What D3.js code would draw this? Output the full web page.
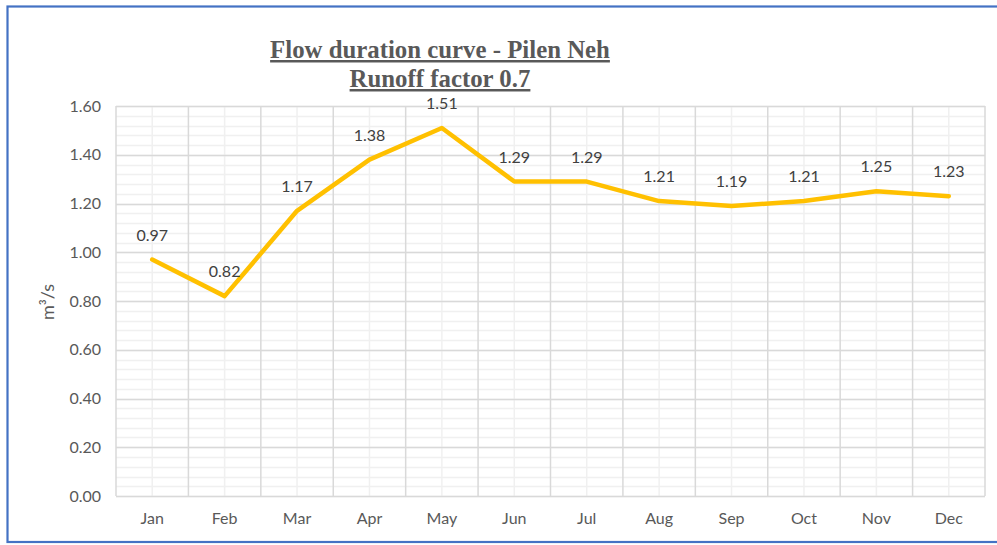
<!DOCTYPE html>
<html><head><meta charset="utf-8">
<script src="https://cdn.jsdelivr.net/npm/d3@7"></script>
<style>body{margin:0;background:#fff}svg{display:block}</style>
</head><body>
<script>
const months = ["Jan","Feb","Mar","Apr","May","Jun","Jul","Aug","Sep","Oct","Nov","Dec"];
const flows = [0.97,0.82,1.17,1.38,1.51,1.29,1.29,1.21,1.19,1.21,1.25,1.23];
const yTicks = [0,0.2,0.4,0.6,0.8,1.0,1.2,1.4,1.6];
const titleLines = ["Flow duration curve - Pilen Neh","Runoff factor 0.7"];
const yLabel = "m³/s";

const W=997,H=545;
const svg=d3.select("body").append("svg").attr("width",W).attr("height",H);
svg.append("rect").attr("x",7.5).attr("y",6.5).attr("width",995).attr("height",535.5)
  .attr("fill","none").attr("stroke","#4472C4").attr("stroke-width",2.2);

const L=116,R=985,T=106,B=496;
const x=d3.scaleBand().domain(months).range([L,R]);
const y=d3.scaleLinear().domain([0,1.6]).range([B,T]);

const minor=d3.range(0,1.6001,0.04);
svg.append("g").selectAll("line").data(minor).join("line")
  .attr("x1",L).attr("x2",R).attr("y1",d=>Math.round(y(d))+0.5).attr("y2",d=>Math.round(y(d))+0.5)
  .attr("stroke","#f0f0f0").attr("stroke-width",1.5);
svg.append("g").selectAll("line").data(months).join("line")
  .attr("x1",d=>x(d)+x.bandwidth()/2).attr("x2",d=>x(d)+x.bandwidth()/2).attr("y1",T).attr("y2",B)
  .attr("stroke","#f0f0f0").attr("stroke-width",1.5);
svg.append("g").selectAll("line").data(yTicks).join("line")
  .attr("x1",L).attr("x2",R).attr("y1",d=>Math.round(y(d))+0.5).attr("y2",d=>Math.round(y(d))+0.5)
  .attr("stroke","#d9d9d9").attr("stroke-width",1.5);
const bounds=months.map(m=>x(m)).concat([R]);
svg.append("g").selectAll("line").data(bounds).join("line")
  .attr("x1",d=>d).attr("x2",d=>d).attr("y1",T).attr("y2",B)
  .attr("stroke","#d9d9d9").attr("stroke-width",1.5);

const font="Lato, 'Open Sans', sans-serif";
const ya=svg.append("g").attr("transform",`translate(${L},0)`)
  .call(d3.axisLeft(y).tickValues(yTicks).tickFormat(d3.format(".2f")).tickSize(0).tickPadding(15));
ya.select(".domain").remove();
ya.selectAll("text").attr("font-family",font).attr("font-size",16).attr("fill","#595959");
const xa=svg.append("g").attr("transform",`translate(0,${B})`)
  .call(d3.axisBottom(x).tickSize(0).tickPadding(17));
xa.select(".domain").remove();
xa.selectAll("text").attr("font-family",font).attr("font-size",16).attr("fill","#595959");

svg.append("text").attr("transform","translate(54,302) rotate(-90)").attr("text-anchor","middle")
  .attr("font-family",font).attr("font-size",18).attr("fill","#595959").text(yLabel);

const line=d3.line().x((d,i)=>x(months[i])+x.bandwidth()/2).y(d=>y(d));
svg.append("path").datum(flows).attr("d",line).attr("fill","none")
  .attr("stroke","#FFC000").attr("stroke-width",4.5).attr("stroke-linejoin","round").attr("stroke-linecap","round");

svg.append("g").selectAll("text").data(flows).join("text")
  .attr("x",(d,i)=>x(months[i])+x.bandwidth()/2).attr("y",d=>y(d)-19)
  .attr("text-anchor","middle").attr("font-family",font).attr("font-size",16).attr("fill","#404040")
  .text(d=>d3.format(".2f")(d));

const tt=svg.append("g").selectAll("text").data(titleLines).join("text")
  .attr("x",440).attr("y",(d,i)=>58+i*29).attr("text-anchor","middle")
  .attr("font-family","'Liberation Serif', 'Times New Roman', Tinos, 'DejaVu Serif', serif").attr("font-weight","bold")
  .attr("font-size",21.5).attr("fill","#595959").attr("text-decoration","underline").text(d=>d);
// fit first line to reference width (~340px)
const w0=tt.node().getComputedTextLength();
if(w0>0){ const fs=Math.max(18,Math.min(28,21.5*340/w0)); tt.attr("font-size",fs); }
</script>
</body></html>
